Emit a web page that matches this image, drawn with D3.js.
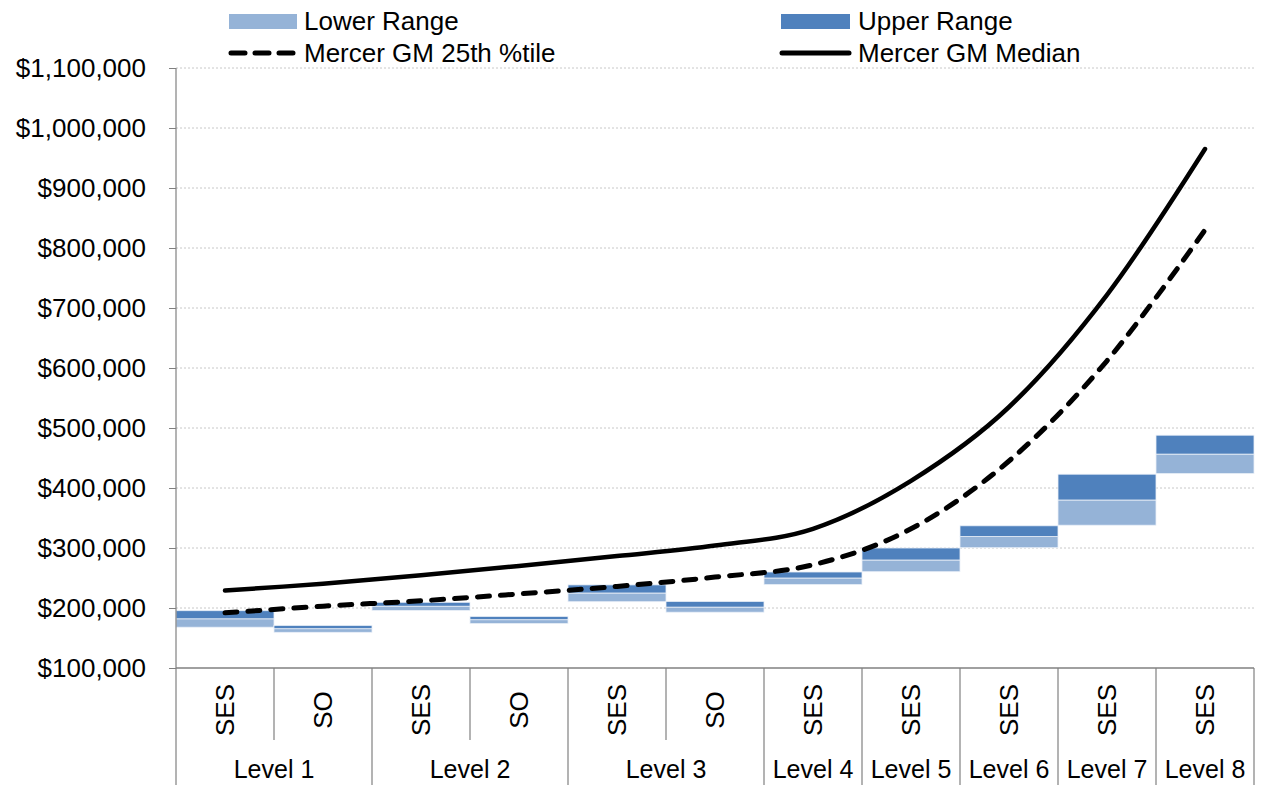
<!DOCTYPE html>
<html>
<head>
<meta charset="utf-8">
<script src="https://cdn.jsdelivr.net/npm/d3@7/dist/d3.min.js"></script>
<style>
  html, body { margin: 0; padding: 0; background: #fff; }
  svg { display: block; }
  text { font-family: "Liberation Sans", Arial, sans-serif; fill: #000; }
</style>
</head>
<body>
<svg id="chart" width="1261" height="785"></svg>
<script>
// ---------- data ----------
const categories = ["SES","SO","SES","SO","SES","SO","SES","SES","SES","SES","SES"];
const levels     = ["Level 1","Level 1","Level 2","Level 2","Level 3","Level 3","Level 4","Level 5","Level 6","Level 7","Level 8"];
const rangeMin   = [168000,159500,196000,174000,210500,193000,239000,260500,300500,338000,424000];
const rangeMid   = [182000,165500,203000,180500,225000,201500,250000,280000,319000,380000,456500];
const rangeMax   = [195500,171000,209500,186000,238500,211000,260000,300000,337000,423000,488000];
const gm25       = [192000,203000,212000,223500,236000,251500,272000,332000,445000,612000,830000];
const gmMedian   = [229000,240500,254500,270000,286500,304000,332000,412000,535000,722000,965000];
const yTicks     = [100000,200000,300000,400000,500000,600000,700000,800000,900000,1000000,1100000];
const legendLabels = ["Lower Range","Upper Range","Mercer GM 25th %tile","Mercer GM Median"];

// ---------- layout ----------
const svg = d3.select("#chart");
const plotL = 176, plotR = 1254, plotT = 68, plotB = 668, svgB = 785;
const lightBlue = "#95B3D7", darkBlue = "#4F81BD";
const fs = "26px";

const idx = d3.range(categories.length);
const x = d3.scaleBand().domain(idx).range([plotL, plotR]).padding(0);
const y = d3.scaleLinear().domain([100000, 1100000]).range([plotB, plotT]);
const fmt = d3.format("$,.0f");

// gridlines
svg.append("g").selectAll("line").data(yTicks.slice(1)).join("line")
  .attr("x1", plotL).attr("x2", plotR)
  .attr("y1", d => y(d)).attr("y2", d => y(d))
  .attr("stroke", "#C8C8C8").attr("stroke-width", 1)
  .attr("stroke-dasharray", "2,2");

// bars: lower range (light) and upper range (dark)
const bars = svg.append("g");
bars.selectAll("rect.lower").data(idx).join("rect")
  .attr("class", "lower")
  .attr("x", i => x(i)).attr("width", x.bandwidth())
  .attr("y", i => y(rangeMid[i]))
  .attr("height", i => y(rangeMin[i]) - y(rangeMid[i]))
  .attr("fill", lightBlue).attr("stroke", "#EAF0F8").attr("stroke-width", 0.8);
bars.selectAll("rect.upper").data(idx).join("rect")
  .attr("class", "upper")
  .attr("x", i => x(i)).attr("width", x.bandwidth())
  .attr("y", i => y(rangeMax[i]))
  .attr("height", i => y(rangeMid[i]) - y(rangeMax[i]))
  .attr("fill", darkBlue).attr("stroke", "#EAF0F8").attr("stroke-width", 0.8);

// lines
const cx = i => x(i) + x.bandwidth() / 2;
const lineGen = arr => d3.line().x(i => cx(i)).y(i => y(arr[i])).curve(d3.curveCardinal.tension(0))(idx);

svg.append("path").attr("d", lineGen(gm25))
  .attr("fill", "none").attr("stroke", "#000").attr("stroke-width", 5)
  .attr("stroke-linecap", "round").attr("stroke-dasharray", "12,11");
svg.append("path").attr("d", lineGen(gmMedian))
  .attr("fill", "none").attr("stroke", "#000").attr("stroke-width", 4.5)
  .attr("stroke-linecap", "round");

// y axis
const yAxis = d3.axisLeft(y).tickValues(yTicks).tickFormat(fmt).tickSize(7).tickPadding(23);
const yg = svg.append("g").attr("transform", `translate(${plotL},0)`).call(yAxis);
yg.select(".domain").remove();
yg.selectAll(".tick line").attr("stroke", "#808080");
yg.selectAll(".tick text").attr("font-size", fs).attr("font-family", "'Liberation Sans', Arial, sans-serif").attr("fill", "#000");
svg.append("line").attr("x1", plotL).attr("x2", plotL).attr("y1", plotT).attr("y2", svgB)
  .attr("stroke", "#808080").attr("stroke-width", 1.2);

// x axis (multi-level)
const xg = svg.append("g");
xg.append("line").attr("x1", plotL).attr("x2", plotR).attr("y1", plotB).attr("y2", plotB)
  .attr("stroke", "#808080").attr("stroke-width", 1.5);
const bounds = d3.range(1, categories.length + 1);
xg.selectAll("line.b").data(bounds).join("line")
  .attr("class", "b")
  .attr("x1", i => x(i - 1) + x.bandwidth()).attr("x2", i => x(i - 1) + x.bandwidth())
  .attr("y1", plotB)
  .attr("y2", i => (i === categories.length || levels[i] !== levels[i - 1]) ? svgB : 740)
  .attr("stroke", "#808080").attr("stroke-width", 1.2);
xg.selectAll("text.cat").data(idx).join("text")
  .attr("class", "cat")
  .attr("transform", i => `translate(${cx(i)},710) rotate(-90)`)
  .attr("text-anchor", "middle").attr("dy", "0.35em")
  .attr("font-size", fs)
  .text(i => categories[i]);
const levelNames = Array.from(new Set(levels));
xg.selectAll("text.lvl").data(levelNames).join("text")
  .attr("class", "lvl")
  .attr("x", n => d3.mean(idx.filter(i => levels[i] === n), cx))
  .attr("y", 778)
  .attr("text-anchor", "middle")
  .attr("font-size", "25px")
  .text(n => n);

// legend
const lg = svg.append("g");
lg.append("rect").attr("x", 229).attr("y", 14).attr("width", 68).attr("height", 15).attr("fill", lightBlue);
lg.append("text").attr("x", 304).attr("y", 30).attr("font-size", fs).text(legendLabels[0]);
lg.append("rect").attr("x", 781).attr("y", 14).attr("width", 69).attr("height", 15).attr("fill", darkBlue);
lg.append("text").attr("x", 858).attr("y", 30).attr("font-size", fs).text(legendLabels[1]);
lg.append("line").attr("x1", 231).attr("x2", 295).attr("y1", 53).attr("y2", 53)
  .attr("stroke", "#000").attr("stroke-width", 5).attr("stroke-linecap", "round").attr("stroke-dasharray", "14,10");
lg.append("text").attr("x", 304).attr("y", 62).attr("font-size", fs).text(legendLabels[2]);
lg.append("line").attr("x1", 782).attr("x2", 849).attr("y1", 53).attr("y2", 53)
  .attr("stroke", "#000").attr("stroke-width", 5).attr("stroke-linecap", "round");
lg.append("text").attr("x", 858).attr("y", 62).attr("font-size", fs).text(legendLabels[3]);
</script>
</body>
</html>
